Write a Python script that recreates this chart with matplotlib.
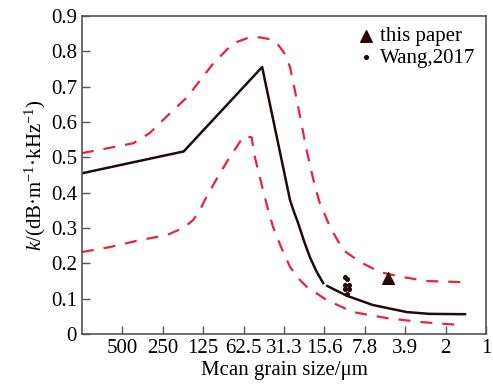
import matplotlib
matplotlib.use('Agg')
import matplotlib.pyplot as plt

plt.rcParams['font.family'] = 'serif'
plt.rcParams['font.serif'] = ['Liberation Serif', 'DejaVu Serif']
plt.rcParams['mathtext.fontset'] = 'custom'
plt.rcParams['mathtext.rm'] = 'Liberation Serif'
plt.rcParams['mathtext.it'] = 'Liberation Serif:italic'

# x positions on phi scale: 0 = 1000 um, 10 = 1 um
tick_pos = [1, 2, 3, 4, 5, 6, 7, 8, 9, 10]
tick_labels = ['500', '250', '125', '62.5', '31.3', '15.6', '7.8', '3.9', '2', '1']

mean_x = [0, 2.52, 4.46, 5.15, 5.25, 5.35, 5.5, 5.64, 5.8, 5.97]
mean_y = [0.455, 0.517, 0.756, 0.379, 0.345, 0.314, 0.262, 0.218, 0.178, 0.144]
mean2_x = [6.07, 6.56, 7.2, 8.04, 8.6, 9.48]
mean2_y = [0.136, 0.108, 0.082, 0.062, 0.057, 0.056]

upper_x = [0, 1.27, 1.68, 2.18, 2.6, 3.25, 3.74, 4.1, 4.4, 4.65, 4.83, 5.0, 5.15, 5.32,
           5.56, 5.77, 5.89, 6.14, 6.46, 6.88, 7.38, 7.95, 8.54, 9.36]
upper_y = [0.512, 0.54, 0.569, 0.625, 0.67, 0.766, 0.823, 0.838, 0.84, 0.835, 0.823, 0.797,
           0.756, 0.662, 0.52, 0.416, 0.37, 0.303, 0.238, 0.204, 0.175, 0.161, 0.15, 0.147]

lower_x = [0, 0.69, 1.44, 2.1, 2.5, 2.75, 2.92, 3.09, 3.34, 3.6, 3.83, 4.0, 4.2, 4.28,
           4.48, 4.6, 4.73, 4.95, 5.15, 5.35, 5.57, 6.06, 6.71, 7.55, 8.37, 9.4]
lower_y = [0.232, 0.246, 0.266, 0.28, 0.3, 0.322, 0.351, 0.39, 0.44, 0.49, 0.53, 0.56, 0.557,
           0.501, 0.408, 0.355, 0.303, 0.24, 0.19, 0.158, 0.133, 0.096, 0.062, 0.045, 0.034, 0.025]

paper_x = [7.57]
paper_y = [0.158]

wang_x = [6.52, 6.56, 6.52, 6.6, 6.52, 6.6, 6.56]
wang_y = [0.160, 0.155, 0.140, 0.140, 0.127, 0.127, 0.112]

fig = plt.figure(figsize=(4.93, 3.85), dpi=100)
ax = fig.add_axes([0.166, 0.1325, 0.82, 0.8255])

red = '#e8233a'
dark = '#1e0c0c'

ax.plot(upper_x, upper_y, color=red, lw=1.6, dashes=(5.4, 4.5))
ax.plot(lower_x, lower_y, color=red, lw=1.6, dashes=(5.4, 4.5))
ax.plot(mean_x, mean_y, color=dark, lw=1.8)
ax.plot(mean2_x, mean2_y, color=dark, lw=1.8)

ax.scatter(paper_x, paper_y, marker='^', s=70, color='#2a0808', zorder=5, label='this paper')
ax.scatter(wang_x, wang_y, marker='o', s=7, color='#2a0808', zorder=5, label='Wang,2017')

ax.set_xlim(0, 10)
ax.set_ylim(0, 0.9)
ax.set_xticks(tick_pos)
ax.set_xticklabels(tick_labels)
ax.set_yticks([0, 0.1, 0.2, 0.3, 0.4, 0.5, 0.6, 0.7, 0.8, 0.9])
ax.set_yticklabels(['0', '0.1', '0.2', '0.3', '0.4', '0.5', '0.6', '0.7', '0.8', '0.9'])
ax.tick_params(direction='in', labelsize=15, length=6, width=1, color='#555555')
for s in ax.spines.values():
    s.set_color('#555555')
    s.set_linewidth(1.2)

ax.set_xlabel('Mcan grain size/μm', fontsize=15, labelpad=2)
ax.set_ylabel(r'$k$/(dB·m$^{\mathregular{-1}}$·kHz$^{\mathregular{-1}}$)', fontsize=15, labelpad=2)

ax.legend(loc='upper right', frameon=False, fontsize=15, handletextpad=0.2,
          borderaxespad=0.1, labelspacing=0.1, handlelength=1.0, markerscale=1)

fig.savefig('out.png', dpi=100)
